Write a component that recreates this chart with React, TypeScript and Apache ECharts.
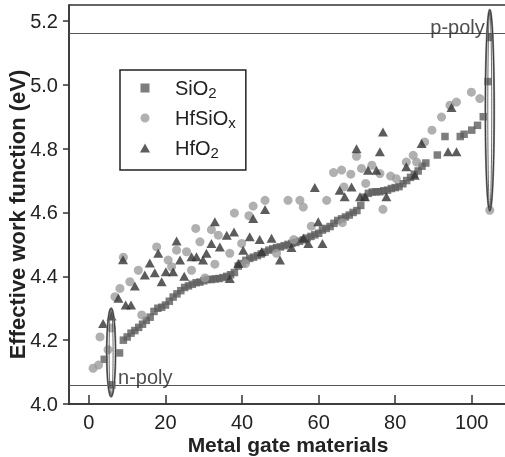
import React, { useEffect, useRef } from 'react';
import * as echarts from 'echarts';

const SIO2: number[][] = [
  [4, 4.14], [6, 4.06], [8, 4.16], [9, 4.2], [10, 4.21], [11, 4.222], [12, 4.23], [13, 4.24], [14, 4.25], [15, 4.262],
  [16, 4.272], [17, 4.29], [18, 4.3], [19, 4.303], [20, 4.31], [21, 4.322], [22, 4.335], [23, 4.345], [24, 4.355], [25, 4.365],
  [26, 4.37], [27, 4.375], [28, 4.38], [29, 4.382], [30, 4.386], [31, 4.39], [32, 4.39], [33, 4.392], [34, 4.393], [35, 4.396],
  [36, 4.4], [37, 4.405], [38, 4.412], [39, 4.432], [40, 4.44], [41, 4.45], [42, 4.456], [43, 4.46], [44, 4.465], [45, 4.47],
  [46, 4.476], [47, 4.482], [48, 4.486], [49, 4.49], [50, 4.492], [51, 4.496], [52, 4.5], [53, 4.503], [54, 4.506], [55, 4.51],
  [56, 4.514], [57, 4.52], [58, 4.525], [59, 4.53], [60, 4.535], [61, 4.545], [62, 4.55], [63, 4.556], [64, 4.566], [65, 4.575],
  [66, 4.58], [67, 4.586], [68, 4.592], [69, 4.6], [70, 4.606], [71, 4.622], [72, 4.648], [73, 4.66], [74, 4.664], [75, 4.665],
  [76, 4.665], [77, 4.668], [78, 4.67], [79, 4.675], [80, 4.678], [81, 4.681], [82, 4.69], [83, 4.7], [84, 4.71], [85, 4.72],
  [86, 4.73], [87, 4.745], [88, 4.755], [91, 4.78], [93, 4.838], [97, 4.838], [98, 4.845], [100, 4.858], [101.5, 4.873], [103, 4.9],
  [104.2, 5.01], [104.7, 5.148],
];

const HFSIOX: number[][] = [
  [1.1, 4.112], [2.5, 4.122], [2.9, 4.21], [5.0, 4.17], [5.9, 4.238], [6.8, 4.336], [8.1, 4.362], [9.0, 4.46], [10.7, 4.383],
  [12.9, 4.419], [13.8, 4.279], [17.7, 4.492], [20.7, 4.451], [21.6, 4.43], [22.9, 4.482], [25.5, 4.477], [26.8, 4.419],
  [27.9, 4.55], [29.0, 4.508], [30.3, 4.395], [32.0, 4.546], [32.9, 4.438], [33.8, 4.529], [36.8, 4.472], [38.0, 4.598],
  [39.9, 4.503], [40.9, 4.44], [41.8, 4.59], [42.9, 4.62], [46.0, 4.638], [49.0, 4.472], [52.0, 4.638], [53.5, 4.515],
  [55.1, 4.638], [56.0, 4.617], [58.1, 4.557], [62.1, 4.638], [63.9, 4.725], [66.0, 4.733], [66.2, 4.568], [66.6, 4.68],
  [68.4, 4.72], [69.9, 4.776], [71.2, 4.738], [72.3, 4.691], [73.9, 4.748], [76.0, 4.722], [76.8, 4.61], [78.8, 4.714],
  [80.3, 4.706], [82.9, 4.758], [84.7, 4.779], [85.6, 4.758], [87.7, 4.821], [89.6, 4.858], [92.1, 4.899], [94.3, 4.936],
  [96.0, 4.946], [99.9, 4.977], [102.1, 4.957], [104.7, 4.607],
];

const HFO2: number[][] = [
  [3.7, 4.252], [5.9, 4.276], [7.7, 4.331], [8.9, 4.452], [9.6, 4.31], [11.0, 4.31], [12.0, 4.37], [14.6, 4.404], [15.9, 4.442],
  [17.2, 4.411], [18.1, 4.472], [19.0, 4.383], [20.1, 4.414], [22.0, 4.414], [22.9, 4.511], [23.8, 4.451], [24.9, 4.4],
  [26.8, 4.461], [28.1, 4.461], [29.8, 4.451], [30.7, 4.472], [32.0, 4.503], [32.9, 4.571], [34.2, 4.492], [36.0, 4.529],
  [36.8, 4.393], [37.9, 4.539], [39.0, 4.44], [40.3, 4.482], [42.0, 4.524], [42.9, 4.581], [44.6, 4.515], [45.1, 4.477],
  [46.0, 4.609], [47.7, 4.519], [49.9, 4.451], [52.9, 4.49], [56.0, 4.52], [57.3, 4.503], [59.0, 4.678], [59.9, 4.571],
  [61.0, 4.503], [65.5, 4.67], [66.8, 4.649], [68.6, 4.68], [69.9, 4.8], [70.8, 4.649], [72.1, 4.649], [72.9, 4.732],
  [75.1, 4.732], [76.0, 4.79], [76.8, 4.852], [77.7, 4.649], [82.9, 4.743], [85.1, 4.717], [86.9, 4.816], [93.8, 4.79],
  [94.7, 4.929], [96.0, 4.79],
];

const LEGEND_LABELS: Record<string, string> = {
  SiO2: '{n|SiO}{s|2}',
  HfSiOx: '{n|HfSiO}{s|x}',
  HfO2: '{n|HfO}{s|2}',
};
const ICON_SQUARE = 'path://M0,0L10,0L10,10L0,10Z';
const ICON_CIRCLE = 'path://M10,5A5,5,0,1,1,0,5A5,5,0,1,1,10,5Z';
const ICON_TRIANGLE = 'path://M5,0L10,9L0,9Z';
const X_TICKS = [0, 20, 40, 60, 80, 100];
const Y_TICKS = [4.0, 4.2, 4.4, 4.6, 4.8, 5.0, 5.2];
const N_POLY = 4.06;
const P_POLY = 5.155;
// [x centre, y low, y high, x half width]
const ELLIPSES: number[][] = [
  [5.8, 4.023, 4.3, 1.15],
  [104.7, 4.605, 5.235, 1.15],
];
const N_LABEL_AT = [7.6, N_POLY];
const P_LABEL_AT = [103.4, P_POLY];

const FONT = '"Liberation Sans", Arial, sans-serif';

export default function App() {
  const ref = useRef<HTMLDivElement>(null);
  useEffect(() => {
    const chart = echarts.init(ref.current!, null, { renderer: 'svg' });
    chart.setOption({
      animation: false,
      textStyle: { fontFamily: FONT, color: '#222' },
      grid: {
        left: 69, top: 5, width: 438, height: 399,
        outerBoundsMode: 'none', containLabel: false,
        show: true, borderColor: '#333', borderWidth: 1.5, backgroundColor: 'transparent',
      },
      legend: {
        data: [
          { name: 'SiO2', icon: ICON_SQUARE },
          { name: 'HfSiOx', icon: ICON_CIRCLE },
          { name: 'HfO2', icon: ICON_TRIANGLE },
        ],
        orient: 'vertical',
        left: 120, top: 70,
        itemWidth: 50, itemHeight: 9, itemGap: 8,
        symbolKeepAspect: true,
        padding: [8, 10, 10, 20],
        borderColor: '#222', borderWidth: 1.5,
        formatter: (name: string) => LEGEND_LABELS[name],
        textStyle: {
          fontFamily: FONT, color: '#222', fontSize: 20,
          rich: {
            n: { fontFamily: FONT, fontSize: 20, lineHeight: 24, color: '#222' },
            s: { fontFamily: FONT, fontSize: 15, lineHeight: 14, color: '#222', verticalAlign: 'bottom' },
          },
        },
      },
      xAxis: {
        type: 'value', min: -5.2, max: 109.2,
        name: 'Metal gate materials', nameLocation: 'middle', nameGap: 30, nameMoveOverlap: false,
        nameTextStyle: { fontFamily: FONT, fontSize: 21, lineHeight: 21, fontWeight: 'bold', color: '#222' },
        axisLine: { show: true, onZero: false, lineStyle: { color: '#333', width: 1.5 } },
        axisTick: { show: true, inside: true, length: 9, customValues: X_TICKS, lineStyle: { color: '#333', width: 1.5 } },
        axisLabel: { customValues: X_TICKS, fontSize: 20, lineHeight: 20, color: '#222', margin: 8, fontFamily: FONT },
        splitLine: { show: false },
      },
      yAxis: {
        type: 'value', min: 4.0, max: 5.25,
        name: 'Effective work function (eV)', nameLocation: 'middle', nameGap: 41, nameMoveOverlap: false,
        nameTextStyle: { fontFamily: FONT, fontSize: 22, fontWeight: 'bold', color: '#222', padding: [0, 20, 0, 0] },
        axisLine: { show: true, onZero: false, lineStyle: { color: '#333', width: 1.5 } },
        axisTick: { show: true, inside: false, length: 6, customValues: Y_TICKS, lineStyle: { color: '#333', width: 1.5 } },
        axisLabel: {
          customValues: Y_TICKS, fontSize: 20, color: '#222', margin: 11, fontFamily: FONT,
          formatter: (v: number) => v.toFixed(1),
        },
        splitLine: { show: false },
      },
      series: [
        {
          name: 'SiO2', type: 'scatter', data: SIO2, symbol: 'rect', symbolSize: 7.5,
          itemStyle: { color: '#5c5c5c' }, z: 2,
        },
        {
          name: 'HfSiOx', type: 'scatter', data: HFSIOX, symbol: 'circle', symbolSize: 9,
          itemStyle: { color: '#9c9c9c' }, z: 3,
        },
        {
          name: 'HfO2', type: 'scatter', data: HFO2, symbol: 'triangle', symbolSize: [10, 9],
          itemStyle: { color: '#333333' }, z: 4,
        },
        {
          name: 'ellipses', type: 'custom', data: ELLIPSES, z: 5, silent: true,
          renderItem: (params: any, api: any) => {
            const xc = api.value(0), ylo = api.value(1), yhi = api.value(2), hw = api.value(3);
            const ym = (ylo + yhi) / 2, hh = (yhi - ylo) / 2;
            const pts: number[][] = [];
            const inner: number[][] = [];
            for (let i = 0; i < 96; i++) {
              const t = (i / 96) * Math.PI * 2;
              pts.push(api.coord([xc + hw * Math.cos(t), ym + hh * Math.sin(t)]));
              inner.push(api.coord([xc + hw * 0.45 * Math.cos(t), ym + hh * 0.97 * Math.sin(t)]));
            }
            return {
              type: 'group',
              children: [
                { type: 'polygon', shape: { points: pts }, style: { fill: 'none', stroke: '#8c8c8c', lineWidth: 2 } },
                { type: 'polygon', shape: { points: pts }, style: { fill: 'none', stroke: '#222', lineWidth: 0.8 } },
                { type: 'polygon', shape: { points: inner }, style: { fill: 'none', stroke: '#444', lineWidth: 0.8 } },
              ],
            };
          },
        },
        {
          name: 'annot', type: 'scatter', symbolSize: 0, silent: true, z: 6,
          data: [
            { value: N_LABEL_AT, name: 'n-poly', label: { position: 'right' } },
            { value: P_LABEL_AT, name: 'p-poly', label: { position: 'left' } },
          ],
          label: {
            show: true, formatter: '{b}', distance: 0, offset: [0, -8],
            fontFamily: FONT, fontSize: 20, color: '#222',
          },
          markLine: {
            silent: true, symbol: 'none',
            label: { show: false },
            lineStyle: { color: '#555', width: 1.2, type: 'solid' },
            data: [{ yAxis: N_POLY }, { yAxis: P_POLY }],
          },
        },
      ],
    });
    return () => chart.dispose();
  }, []);
  return <div ref={ref} style={{ position: 'fixed', left: 0, top: 0, width: 505, height: 457 }} />;
}
